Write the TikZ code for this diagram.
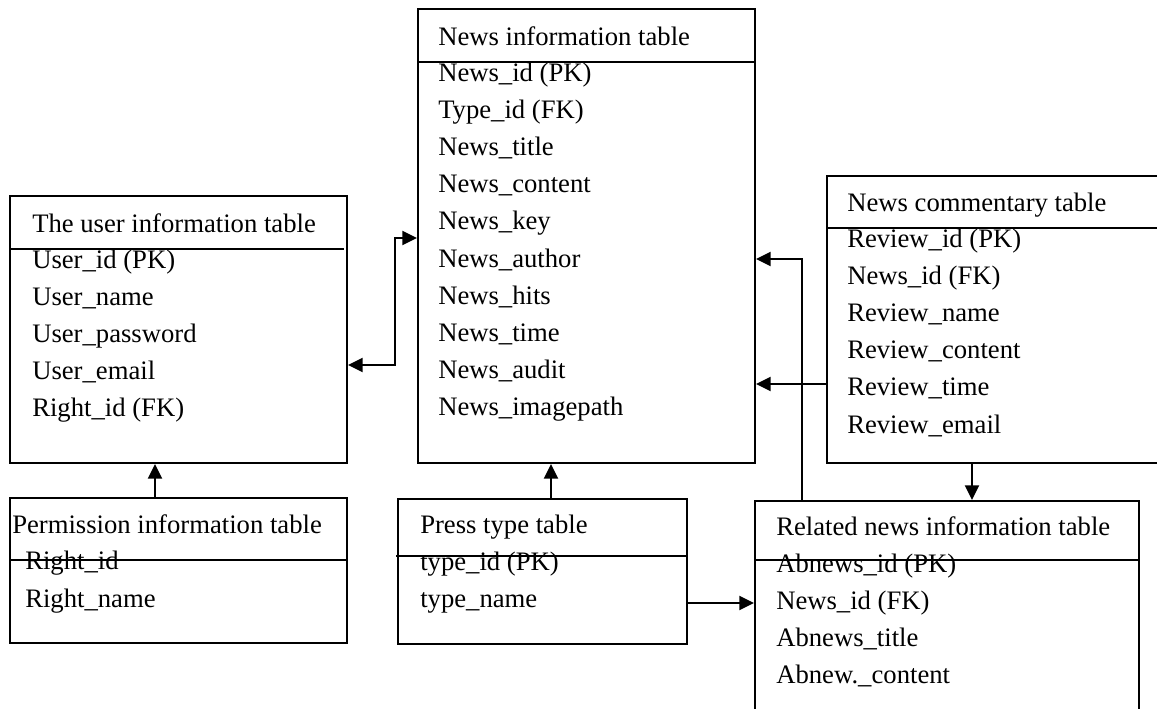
\documentclass[tikz,border=0pt]{standalone}
\usepackage{fontspec}
\setmainfont{Liberation Serif}
\usetikzlibrary{arrows.meta}

\tikzset{
  tbl/.style 2 args = {draw, line width=1.5pt, inner sep=0pt,
    minimum width=#1*0.75pt, minimum height=#2*0.75pt},
  hdr/.style = {line width=1.2pt},
  fld/.style = {anchor=base west, inner sep=0pt, font=\fontsize{20}{24}\selectfont},
  link/.style = {line width=1.5pt, -{Triangle[length=11pt,width=10.5pt]}},
  blink/.style = {line width=1.5pt, {Triangle[length=11pt,width=10.5pt]}-{Triangle[length=11pt,width=10.5pt]}}
}

\begin{document}
\begin{tikzpicture}[x=0.75pt, y=-0.75pt]
\useasboundingbox (0,0) rectangle (1157,708);

\node[tbl={337}{267}] (user) at (178.5,329.5) {};
\node[tbl={337}{454}] (news) at (586.5,236) {};
\node[tbl={373}{287}] (comm) at (1013.5,319.5) {};
\node[tbl={337}{145}] (perm) at (178.5,570.5) {};
\node[tbl={289}{145}] (ptype) at (542.5,571.5) {};
\node[tbl={384}{240}] (rel) at (947,621) {};

\draw[hdr] (10,249) -- (344,249);
\draw[hdr] (418,62) -- (755,62);
\draw[hdr] (827,228) -- (1200,228);
\draw[hdr] (10,560) -- (347,560);
\draw[hdr] (396,556) -- (687,556);
\draw[hdr] (755,560) -- (1139,560);

\node[fld] (user-t) at (32,232) {The user information table};
\foreach \f [count=\i from 0] in {User\_id (PK), User\_name, User\_password, User\_email, Right\_id (FK)}
  \node[fld] (user-\i) at (32,268+37*\i) {\f};

\node[fld] (news-t) at (438,45) {News information table};
\foreach \f [count=\i from 0] in {News\_id (PK), Type\_id (FK), News\_title, News\_content, News\_key, News\_author, News\_hits, News\_time, News\_audit, News\_imagepath}
  \node[fld] (news-\i) at (438,81+37.2*\i) {\f};

\node[fld] (comm-t) at (847,211) {News commentary table};
\foreach \f [count=\i from 0] in {Review\_id (PK), News\_id (FK), Review\_name, Review\_content, Review\_time, Review\_email}
  \node[fld] (comm-\i) at (847,247+37.2*\i) {\f};

\node[fld] (perm-t) at (12,533) {Permission information table};
\foreach \f [count=\i from 0] in {Right\_id, Right\_name}
  \node[fld] (perm-\i) at (25,569+38*\i) {\f};

\node[fld] (ptype-t) at (420,533) {Press type table};
\foreach \f [count=\i from 0] in {type\_id (PK), type\_name}
  \node[fld] (ptype-\i) at (420,570+37*\i) {\f};

\node[fld] (rel-t) at (776,535) {Related news information table};
\foreach \f [count=\i from 0] in {Abnews\_id (PK), News\_id (FK), Abnews\_title, Abnew.\_content}
  \node[fld] (rel-\i) at (776,572+37*\i) {\f};

\coordinate (un1) at (395,238);
\coordinate (un2) at (395,365);
\coordinate (pu) at (155,480);
\coordinate (pn) at (551,480);
\coordinate (pr) at (720,603);
\coordinate (cn) at (790,384);
\coordinate (rn) at (802,259);
\coordinate (cr) at (972,480);

\draw[blink] (news.west |- un1) -- (un1) -- (un2) -- (user.east |- un2);
\draw[link] (perm.north -| pu) -- (user.south -| pu);
\draw[link] (ptype.north -| pn) -- (news.south -| pn);
\draw[link] (ptype.east |- pr) -- (rel.west |- pr);
\draw[link] (comm.west |- cn) -- (news.east |- cn);
\draw[link] (rel.north -| rn) -- (rn) -- (news.east |- rn);
\draw[link] (comm.south -| cr) -- (rel.north -| cr);

\end{tikzpicture}
\end{document}
